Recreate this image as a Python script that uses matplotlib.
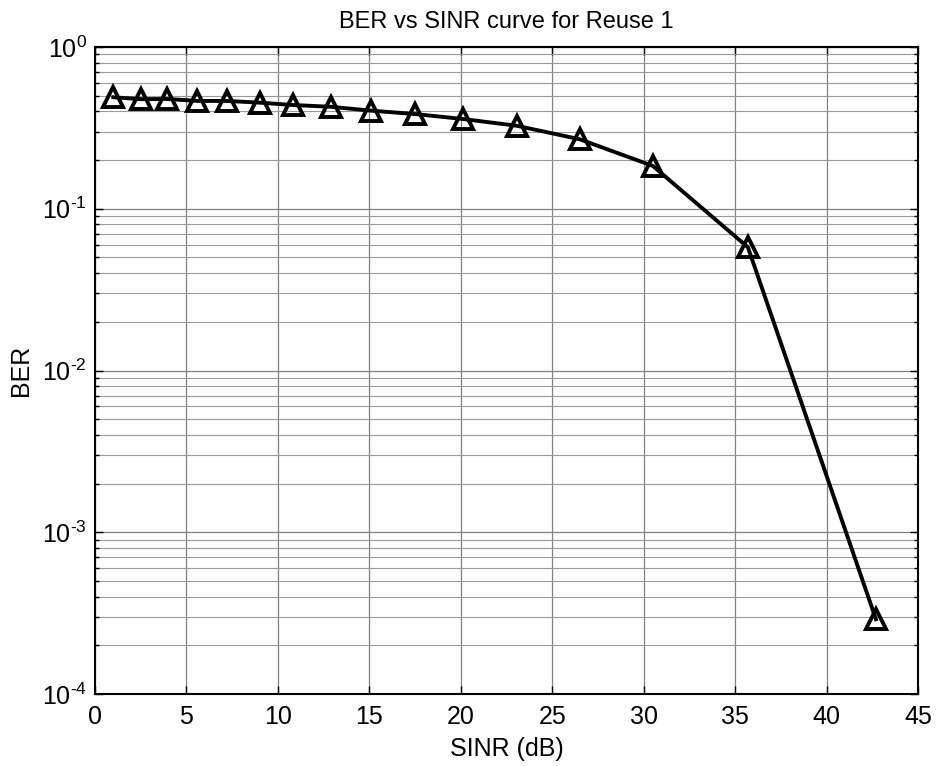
import matplotlib
matplotlib.use("Agg")
import matplotlib.pyplot as plt
from matplotlib.ticker import LogLocator, NullFormatter, FuncFormatter
import math

plt.rcParams['font.family'] = ['Liberation Sans', 'DejaVu Sans']
plt.rcParams['mathtext.fontset'] = 'custom'
plt.rcParams['mathtext.rm'] = 'Liberation Sans'
plt.rcParams['mathtext.it'] = 'Liberation Sans'
plt.rcParams['axes.unicode_minus'] = False

sinr_db = [1.0, 2.5, 3.95, 5.6, 7.2, 9.0, 10.8, 12.9, 15.1, 17.5, 20.1, 23.05, 26.5, 30.5, 35.7, 42.7]
ber = [0.489, 0.476, 0.477, 0.464, 0.464, 0.453, 0.438, 0.427, 0.404, 0.385, 0.359, 0.326, 0.269, 0.184, 0.0578, 2.9e-4]
x_ticks = [0, 5, 10, 15, 20, 25, 30, 35, 40, 45]


def exp_label(v, pos):
    e = int(round(math.log10(v)))
    s = str(abs(e))
    if e < 0:
        s = '\u2010' + s
    return r'$\mathregular{10^{%s}}$' % s


fig = plt.figure(figsize=(9.37, 7.66), dpi=100)
ax = fig.add_axes([95/937, 1 - 694/766, (918-95)/937, (694-47)/766])

ax.semilogy(sinr_db, ber, color='black', linewidth=2.8, marker='^',
            markersize=15, markerfacecolor='none', markeredgecolor='black',
            markeredgewidth=2.8, zorder=3)

ax.set_xlim(0, 45)
ax.set_ylim(1e-4, 1)
ax.set_xticks(x_ticks)
ax.yaxis.set_major_locator(LogLocator(base=10, numticks=10))
ax.yaxis.set_major_formatter(FuncFormatter(exp_label))
ax.yaxis.set_minor_locator(LogLocator(base=10, subs=range(2, 10), numticks=20))
ax.yaxis.set_minor_formatter(NullFormatter())

ax.grid(True, which='major', color='#808080', linewidth=0.9)
ax.grid(True, which='minor', axis='y', color='#999999', linewidth=0.8)
ax.set_axisbelow(True)

ax.tick_params(which='both', direction='in', top=True, right=True,
               labelsize=18, length=6, width=1, pad=8)
ax.tick_params(axis='y', pad=6)
ax.tick_params(which='minor', length=3)
for s in ax.spines.values():
    s.set_linewidth(1.5)

ax.set_title('BER vs SINR curve for Reuse 1', fontsize=17, pad=14)
ax.set_xlabel('SINR (dB)', fontsize=18, labelpad=6)
ax.set_ylabel('BER', fontsize=18, labelpad=6)

fig.savefig('out.png', dpi=100)
